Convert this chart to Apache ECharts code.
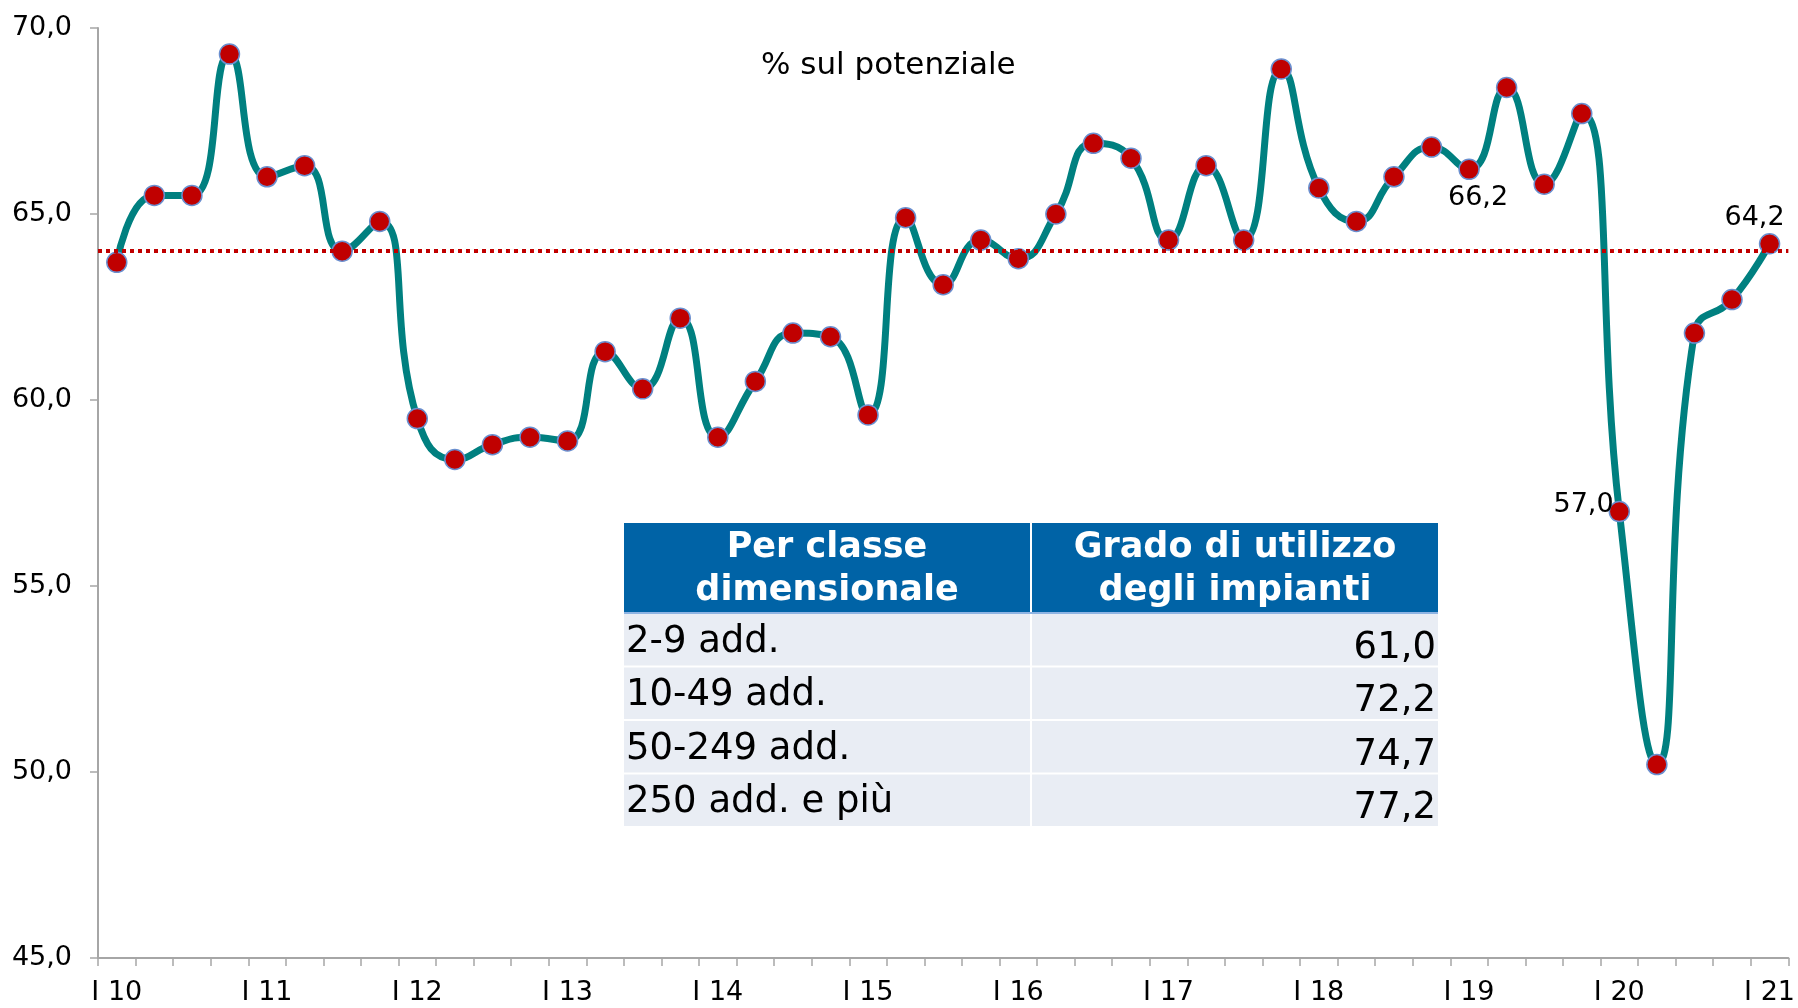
<!DOCTYPE html>
<html>
<head>
<meta charset="utf-8">
<title>Grado di utilizzo degli impianti</title>
<script src="https://cdn.jsdelivr.net/npm/echarts@6/dist/echarts.min.js"></script>
<style>
  html, body { margin: 0; padding: 0; background: #fff; }
  #chart { width: 1798px; height: 1008px; }
</style>
</head>
<body>
<div id="chart"></div>
<script>
// trimestri dal I 2010 al I 2021
const anni = ['10', '11', '12', '13', '14', '15', '16', '17', '18', '19', '20', '21'];
const trimestri = ['I', 'II', 'III', 'IV'];
const categorie = [];
anni.forEach(a => trimestri.forEach(t => categorie.push(t + ' ' + a)));
categorie.splice(45);

// % sul potenziale
const utilizzo = [
  63.7, 65.5, 65.5, 69.3,
  66.0, 66.3, 64.0, 64.8,
  59.5, 58.4, 58.8, 59.0,
  58.9, 61.3, 60.3, 62.2,
  59.0, 60.5, 61.8, 61.7,
  59.6, 64.9, 63.1, 64.3,
  63.8, 65.0, 66.9, 66.5,
  64.3, 66.3, 64.3, 68.9,
  65.7, 64.8, 66.0, 66.8,
  66.2, 68.4, 65.8, 67.7,
  57.0, 50.2, 61.8, 62.7,
  64.2
];
const mediaPeriodo = 64.0;

// punti con etichetta (indice -> posizione)
const etichette = { 36: 'bottom', 40: 'left', 44: 'top' };

// tabellina per classe dimensionale
const intestazioni = ['Per classe\ndimensionale', 'Grado di utilizzo\ndegli impianti'];
const classi = ['2-9 add.', '10-49 add.', '50-249 add.', '250 add. e più'];
const gradoUtilizzo = [61.0, 72.2, 74.7, 77.2];

const fmt = v => v.toFixed(1).replace('.', ',');
const FONT = 'DejaVu Sans, Verdana, sans-serif';

const labelOpts = {
  bottom: { position: 'bottom', distance: 4, offset: [9, 0] },
  left: { position: 'left', distance: -5, offset: [0, -7] },
  top: { position: 'top', distance: 2, offset: [-15, 0] }
};

const serieDati = utilizzo.map((v, i) => {
  if (!etichette[i]) return v;
  return {
    value: v,
    label: Object.assign({
      show: true,
      formatter: p => fmt(p.value),
      color: '#000',
      fontSize: 27,
      fontFamily: FONT
    }, labelOpts[etichette[i]])
  };
});

// tabella disegnata con graphic
const tab = { left: 624, top: 523, colW: [406, 406], gap: 2, headH: 89, rowH: 51.5, rowGap: 2 };
const grafica = [];
let x0 = tab.left;
tab.colW.forEach((w, c) => {
  grafica.push({
    type: 'rect', shape: { x: x0, y: tab.top, width: w, height: tab.headH },
    style: { fill: '#0063A6' }
  });
  grafica.push({
    type: 'text', x: x0 + w / 2, y: tab.top + tab.headH / 2 + 2,
    style: {
      text: intestazioni[c], fill: '#fff', font: 'bold 35px ' + FONT,
      align: 'center', verticalAlign: 'middle', lineHeight: 43
    }
  });
  x0 += w + tab.gap;
});
const totW = tab.colW[0] + tab.colW[1] + tab.gap;
grafica.push({
  type: 'rect', shape: { x: tab.left, y: tab.top + tab.headH, width: totW, height: 2 },
  style: { fill: '#8EB4E3' }
});
classi.forEach((nome, r) => {
  const y = tab.top + tab.headH + 2 + r * (tab.rowH + tab.rowGap);
  grafica.push({
    type: 'rect', shape: { x: tab.left, y: y, width: tab.colW[0], height: tab.rowH },
    style: { fill: '#E9EDF4' }
  });
  grafica.push({
    type: 'rect', shape: { x: tab.left + tab.colW[0] + tab.gap, y: y, width: tab.colW[1], height: tab.rowH },
    style: { fill: '#E9EDF4' }
  });
  grafica.push({
    type: 'text', x: tab.left + 2, y: y + 28,
    style: { text: nome, fill: '#000', font: '37px ' + FONT, align: 'left', verticalAlign: 'middle' }
  });
  grafica.push({
    type: 'text', x: tab.left + totW - 2, y: y + 34,
    style: { text: fmt(gradoUtilizzo[r]), fill: '#000', font: '37px ' + FONT, align: 'right', verticalAlign: 'middle' }
  });
});

const chart = echarts.init(document.getElementById('chart'));
chart.setOption({
  animation: false,
  title: {
    text: '% sul potenziale',
    left: 756,
    top: 45,
    textStyle: { fontFamily: FONT, fontSize: 31, fontWeight: 'normal', color: '#000' }
  },
  grid: { left: 98, right: 8, top: 28, bottom: 50, containLabel: false },
  xAxis: {
    type: 'category',
    data: categorie,
    boundaryGap: true,
    axisLine: { lineStyle: { color: '#A6A6A6', width: 2 } },
    axisTick: { show: true, interval: 0, length: 8, lineStyle: { color: '#A6A6A6', width: 1.5 } },
    axisLabel: {
      interval: 3, margin: 21, color: '#000', fontSize: 27, fontFamily: FONT
    },
    splitLine: { show: false }
  },
  yAxis: {
    type: 'value',
    min: 45,
    max: 70,
    interval: 5,
    axisLine: { show: true, lineStyle: { color: '#A6A6A6', width: 2 } },
    axisTick: { show: true, length: 8, lineStyle: { color: '#A6A6A6', width: 1.5 } },
    axisLabel: { formatter: v => fmt(v), margin: 26, color: '#000', fontSize: 27, fontFamily: FONT },
    splitLine: { show: false }
  },
  series: [
    {
      name: 'Grado di utilizzo',
      type: 'line',
      data: serieDati,
      smooth: 0.5,
      symbol: 'circle',
      symbolSize: 20,
      lineStyle: { color: '#008080', width: 7 },
      itemStyle: { color: '#C00000', borderColor: '#6A8FCF', borderWidth: 1.5 },
      z: 3,
      markLine: {
        silent: true,
        symbol: 'none',
        label: { show: false },
        lineStyle: { color: '#C00000', width: 4, type: [4, 4] },
        data: [{ yAxis: mediaPeriodo }]
      }
    }
  ],
  graphic: grafica
});
</script>
</body>
</html>
